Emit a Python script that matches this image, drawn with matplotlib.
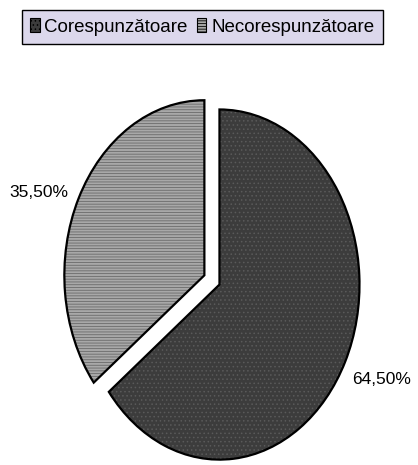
import matplotlib.pyplot as plt
import matplotlib as mpl

labels = ['Corespunzătoare', 'Necorespunzătoare']
values = [64.5, 35.5]
pct_text = ['64,50%', '35,50%']

face = ['#3c3c3c', '#a8a8a8']
hatch_col = ['#5a5a5a', '#6a6a6a']
hatches = ['....', '------']

plt.rcParams['font.family'] = ['Liberation Sans', 'DejaVu Sans']
mpl.rcParams['hatch.linewidth'] = 0.6

fig = plt.figure(figsize=(4.18, 4.65), dpi=100)
ax = fig.add_axes([0.172, 0.0215, 0.670, 0.753])

explode = [0.06, 0.06]
# filled wedges with hatch (edge colour drives hatch colour)
wedges, _ = ax.pie(values, explode=explode, startangle=90, counterclock=False,
                   colors=face, wedgeprops=dict(linewidth=0))
for w, h, hc in zip(wedges, hatches, hatch_col):
    w.set_hatch(h)
    w.set_edgecolor(hc)

# black outlines + percentage labels
outl, texts = ax.pie(values, explode=explode, startangle=90, counterclock=False,
                     labels=pct_text, labeldistance=1.08,
                     wedgeprops=dict(fill=False, edgecolor='black', linewidth=1.6),
                     textprops=dict(fontsize=12.5, color='black'))
x0, y0 = texts[0].get_position()
texts[0].set_position((x0 - 0.02, y0 - 0.07))

ax.set_aspect('auto')
ax.set_xlim(-1, 1)
ax.set_ylim(-1, 1)

handles = [mpl.patches.Patch(facecolor=face[i], edgecolor='black', hatch=hatches[i], linewidth=0.8)
           for i in range(2)]
leg = fig.legend(handles, labels, loc='upper center', bbox_to_anchor=(0.484, 0.979), ncol=2,
                 fontsize=13.5, frameon=True, fancybox=False, framealpha=1,
                 facecolor='#dcd8ec', edgecolor='black', handlelength=0.5, handleheight=0.75,
                 handletextpad=0.25, columnspacing=0.5, borderpad=0.45, borderaxespad=0)
leg.get_frame().set_linewidth(1.0)

fig.savefig('out.png', dpi=100)
